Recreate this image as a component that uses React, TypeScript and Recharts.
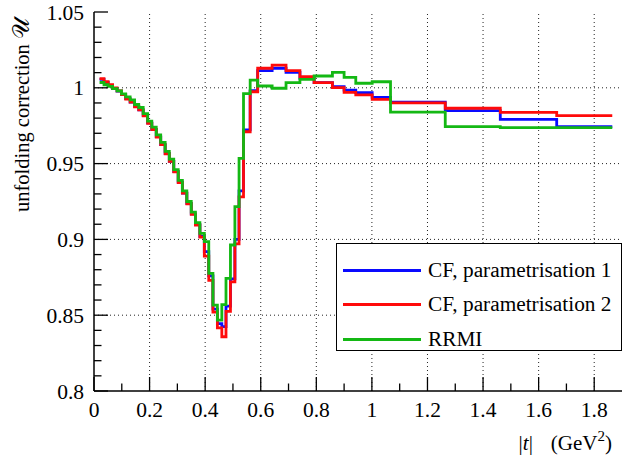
import React from 'react';
import { LineChart, Line, XAxis, YAxis, ReferenceLine, Legend } from 'recharts';

// bin edges in |t| (GeV^2)
const binEdges = [
  0.020, 0.036, 0.051, 0.067, 0.083, 0.099, 0.114, 0.130, 0.146, 0.161,
  0.177, 0.193, 0.208, 0.224, 0.240, 0.256, 0.271, 0.287, 0.303, 0.318,
  0.334, 0.350, 0.365, 0.381, 0.397, 0.413, 0.428, 0.444, 0.460, 0.475,
  0.491, 0.507, 0.522, 0.538, 0.562, 0.589, 0.641, 0.691, 0.741, 0.792,
  0.858, 0.900, 0.942, 1.001, 1.067, 1.264, 1.462, 1.665, 1.865,
];

// CF, parametrisation 1 (blue)
const cf1Values = [
  1.0055, 1.0035, 1.0015, 0.9995, 0.9978, 0.9955, 0.9928, 0.9905, 0.9878, 0.9855,
  0.9818, 0.9768, 0.9725, 0.9678, 0.9625, 0.9568, 0.9515, 0.9448, 0.9378, 0.9305,
  0.9238, 0.9168, 0.9098, 0.902, 0.892, 0.876, 0.854, 0.8445, 0.8424, 0.856,
  0.874, 0.900, 0.932, 0.9722, 0.9981, 1.0113, 1.0129, 1.0102, 1.0063, 1.0034,
  1.0007, 0.9985, 0.9968, 0.9937, 0.9906, 0.9849, 0.9792, 0.9744,
];

// CF, parametrisation 2 (red)
const cf2Values = [
  1.006, 1.004, 1.002, 1.0, 0.998, 0.9955, 0.9925, 0.9905, 0.9875, 0.9855,
  0.9815, 0.9765, 0.9725, 0.9675, 0.9625, 0.9565, 0.9515, 0.9445, 0.9375, 0.9305,
  0.9235, 0.9165, 0.9095, 0.9015, 0.889, 0.873, 0.852, 0.8416, 0.8358, 0.8525,
  0.872, 0.897, 0.928, 0.971, 0.9974, 1.0129, 1.015, 1.0113, 1.0073, 1.0034,
  1.0001, 0.997, 0.9953, 0.9924, 0.9900, 0.9865, 0.9838, 0.9816,
];

// RRMI (green)
const rrmiValues = [
  1.0035, 1.002, 1.001, 0.9995, 0.998, 0.996, 0.994, 0.992, 0.989, 0.987,
  0.983, 0.978, 0.974, 0.969, 0.964, 0.958, 0.953, 0.946, 0.939, 0.932,
  0.925, 0.918, 0.911, 0.904, 0.8985, 0.8776, 0.8567, 0.8468, 0.857, 0.8743,
  0.8963, 0.9216, 0.9535, 0.9962, 1.0051, 1.0012, 0.9997, 1.0034, 1.0056, 1.0078,
  1.0102, 1.0069, 1.003, 1.004, 0.9840, 0.9744, 0.9737, 0.9737,
];

const seriesNames = ['CF, parametrisation 1', 'CF, parametrisation 2', 'RRMI'];
const seriesColors = ['#0a0aff', '#ff0a0a', '#14b814'];

const xTicks = [0, 0.1, 0.2, 0.3, 0.4, 0.5, 0.6, 0.7, 0.8, 0.9, 1, 1.1, 1.2, 1.3, 1.4, 1.5, 1.6, 1.7, 1.8];
const xMajorTicks = [0, 0.2, 0.4, 0.6, 0.8, 1, 1.2, 1.4, 1.6, 1.8];
const yTicks = [
  0.8, 0.81, 0.82, 0.83, 0.84, 0.85, 0.86, 0.87, 0.88, 0.89, 0.9, 0.91, 0.92,
  0.93, 0.94, 0.95, 0.96, 0.97, 0.98, 0.99, 1, 1.01, 1.02, 1.03, 1.04, 1.05,
];
const yMajorTicks = [0.8, 0.85, 0.9, 0.95, 1, 1.05];
const xDomain = [0, 1.9];
const yDomain = [0.8, 1.05];

const data = binEdges.map((t, i) => {
  const k = Math.min(i, cf1Values.length - 1);
  return { t, cf1: cf1Values[k], cf2: cf2Values[k], rrmi: rrmiValues[k] };
});

const FONT = '"Liberation Serif", "Times New Roman", serif';
const isMajor = (v: number, list: number[]) => list.some((m) => Math.abs(m - v) < 1e-9);
const MAJ = 14;
const MIN = 7.5;
const TICK_W = 1.3;

const LeftTick = (p: any) => {
  const { x, y, payload } = p;
  const v = payload.value;
  const major = isMajor(v, yMajorTicks);
  return (
    <g>
      <line x1={x} x2={x + (major ? MAJ : MIN)} y1={y} y2={y} stroke="#000" strokeWidth={TICK_W} />
      {major && (
        <text x={x - 10} y={y} dy="0.35em" textAnchor="end" fontSize={21.5} fontFamily={FONT} fill="#000">
          {String(v)}
        </text>
      )}
    </g>
  );
};

const RightTick = (p: any) => {
  const { x, y, payload } = p;
  const major = isMajor(payload.value, yMajorTicks);
  return <line x1={x} x2={x - (major ? MAJ : MIN)} y1={y} y2={y} stroke="#000" strokeWidth={TICK_W} />;
};

const BottomTick = (p: any) => {
  const { x, y, payload } = p;
  const v = payload.value;
  const major = isMajor(v, xMajorTicks);
  return (
    <g>
      <line x1={x} x2={x} y1={y} y2={y - (major ? MAJ : MIN)} stroke="#000" strokeWidth={TICK_W} />
      {major && (
        <text x={x} y={y + 26} textAnchor="middle" fontSize={21.5} fontFamily={FONT} fill="#000">
          {String(v)}
        </text>
      )}
    </g>
  );
};

const TopTick = (p: any) => {
  const { x, y, payload } = p;
  const major = isMajor(payload.value, xMajorTicks);
  return <line x1={x} x2={x} y1={y} y2={y + (major ? MAJ : MIN)} stroke="#000" strokeWidth={TICK_W} />;
};

const XTitle = (p: any) => {
  const vb = p.viewBox || {};
  const right = vb.x + vb.width - 10;
  const base = vb.y + 59;
  return (
    <text x={right} y={base} textAnchor="end" fontSize={21} fontFamily={FONT} fill="#000">
      <tspan>|</tspan>
      <tspan fontStyle="italic">t</tspan>
      <tspan>|</tspan>
      <tspan dx={18}>(GeV</tspan>
      <tspan dy={-9} fontSize={15}>2</tspan>
      <tspan dy={9}>)</tspan>
    </text>
  );
};

const YTitle = (p: any) => {
  const vb = p.viewBox || {};
  const cx = vb.x + 15;
  const cy = vb.y + 6;
  return (
    <text
      x={cx}
      y={cy}
      transform={`rotate(-90 ${cx} ${cy})`}
      textAnchor="end"
      fontSize={20.5}
      fontFamily={FONT}
      fill="#000"
    >
      unfolding correction <tspan fontSize={23}>𝒰</tspan>
    </text>
  );
};

const LegendBox = (props: any) => {
  const payload = props.payload || [];
  return (
    <div
      style={{
        position: 'relative',
        width: '100%',
        height: '100%',
        boxSizing: 'border-box',
        border: '1.5px solid #000',
        background: '#fff',
        fontFamily: FONT,
      }}
    >
      {payload.map((item: any, i: number) => (
        <div
          key={i}
          style={{ position: 'absolute', left: 6, top: 12 + i * 34.5, height: 28, display: 'flex', alignItems: 'center' }}
        >
          <div style={{ width: 78, height: 3, background: item.color }} />
          <span style={{ marginLeft: 7, fontSize: 21.3, color: '#000', whiteSpace: 'nowrap' }}>{item.value}</span>
        </div>
      ))}
    </div>
  );
};

export default function App() {
  return (
    <div style={{ position: 'absolute', left: 0, top: 0, width: 635, height: 459, background: '#fff' }}>
      <LineChart width={635} height={459} data={data} margin={{ top: 12, right: 13, bottom: 28, left: 14 }}>
        <XAxis
          dataKey="t"
          type="number"
          domain={xDomain}
          ticks={xTicks}
          interval={0}
          tickSize={0}
          tickMargin={0}
          tickLine={false}
          tick={BottomTick}
          axisLine={{ stroke: '#000', strokeWidth: 1.5 }}
          height={40}
          allowDataOverflow
          label={XTitle}
        />
        <XAxis
          xAxisId="top"
          orientation="top"
          dataKey="t"
          type="number"
          domain={xDomain}
          ticks={xTicks}
          interval={0}
          tickSize={0}
          tickMargin={0}
          tickLine={false}
          tick={TopTick}
          axisLine={{ stroke: '#000', strokeWidth: 1.5 }}
          height={0}
          allowDataOverflow
        />
        <YAxis
          type="number"
          domain={yDomain}
          ticks={yTicks}
          interval={0}
          tickSize={0}
          tickMargin={0}
          tickLine={false}
          tick={LeftTick}
          axisLine={{ stroke: '#000', strokeWidth: 1.5 }}
          width={80}
          allowDataOverflow
          label={YTitle}
        />
        <YAxis
          yAxisId="r"
          orientation="right"
          type="number"
          domain={yDomain}
          ticks={yTicks}
          interval={0}
          tickSize={0}
          tickMargin={0}
          tickLine={false}
          tick={RightTick}
          axisLine={{ stroke: '#000', strokeWidth: 1.5 }}
          width={0}
          allowDataOverflow
        />
        {xMajorTicks.slice(1).map((v) => (
          <ReferenceLine key={'gx' + v} x={v} stroke="#222" strokeWidth={1} strokeDasharray="1 3" />
        ))}
        {yMajorTicks.slice(1, -1).map((v) => (
          <ReferenceLine key={'gy' + v} y={v} stroke="#222" strokeWidth={1} strokeDasharray="1 3" />
        ))}
        <Line type="stepAfter" dataKey="cf1" name={seriesNames[0]} stroke={seriesColors[0]} strokeWidth={2.8} dot={false} isAnimationActive={false} />
        <Line type="stepAfter" dataKey="cf2" name={seriesNames[1]} stroke={seriesColors[1]} strokeWidth={2.8} dot={false} isAnimationActive={false} />
        <Line type="stepAfter" dataKey="rrmi" name={seriesNames[2]} stroke={seriesColors[2]} strokeWidth={2.8} dot={false} isAnimationActive={false} />
        <Legend
          layout="vertical"
          align="center"
          verticalAlign="middle"
          content={LegendBox}
          wrapperStyle={{ position: 'absolute', left: 336, top: 243, width: 286, height: 108 }}
        />
      </LineChart>
    </div>
  );
}
